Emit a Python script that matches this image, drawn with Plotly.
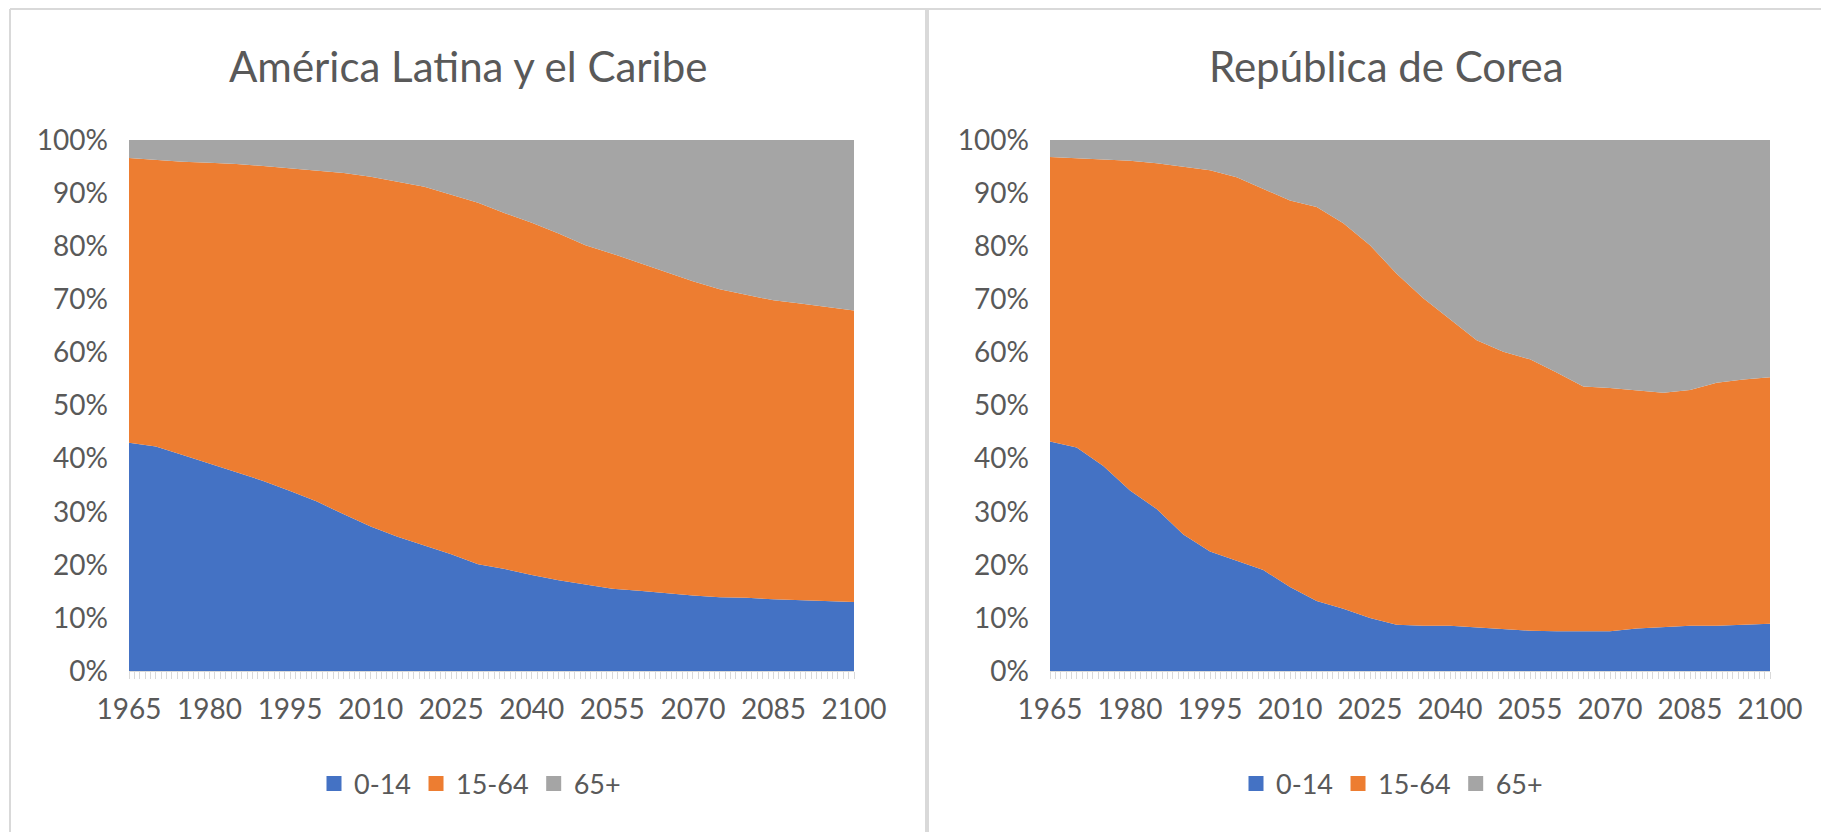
import plotly.graph_objects as go

W, H = 1829, 832

years = [1965, 1970, 1975, 1980, 1985, 1990, 1995, 2000, 2005, 2010, 2015, 2020, 2025, 2030,
         2035, 2040, 2045, 2050, 2055, 2060, 2065, 2070, 2075, 2080, 2085, 2090, 2095, 2100]

age_groups = ["0-14", "15-64", "65+"]
titles = ["América Latina y el Caribe", "República de Corea"]

# América Latina y el Caribe (% of population)
lac_0_14 = [43.0, 42.3, 40.7, 39.1, 37.4, 35.8, 33.9, 31.9, 29.5, 27.2, 25.3, 23.7, 22.0, 20.1,
            19.2, 18.1, 17.1, 16.3, 15.5, 15.1, 14.6, 14.2, 13.9, 13.8, 13.5, 13.3, 13.1, 13.0]
lac_15_64 = [53.6, 53.9, 55.2, 56.6, 58.1, 59.3, 60.8, 62.3, 64.3, 65.9, 66.9, 67.5, 67.7, 68.1,
             67.0, 66.3, 65.3, 63.9, 63.1, 61.8, 60.5, 59.2, 58.0, 57.1, 56.3, 55.9, 55.5, 54.9]
lac_65 = [3.4, 3.8, 4.1, 4.3, 4.5, 4.9, 5.3, 5.8, 6.2, 6.9, 7.8, 8.8, 10.3, 11.8,
          13.8, 15.6, 17.6, 19.8, 21.4, 23.1, 24.9, 26.6, 28.1, 29.1, 30.2, 30.8, 31.4, 32.1]

# República de Corea (% of population)
kor_0_14 = [43.2, 42.1, 38.6, 34.0, 30.5, 25.7, 22.5, 20.8, 19.0, 15.8, 13.2, 11.7, 10.0, 8.7,
            8.5, 8.5, 8.2, 8.0, 7.6, 7.5, 7.5, 7.5, 8.0, 8.3, 8.5, 8.5, 8.7, 8.9]
kor_15_64 = [53.6, 54.5, 57.7, 62.1, 65.1, 69.3, 71.8, 72.2, 71.8, 72.8, 74.2, 72.6, 70.2, 66.1,
             61.7, 57.7, 54.1, 52.1, 51.1, 48.7, 46.1, 45.8, 44.8, 44.1, 44.4, 45.8, 46.2, 46.4]
kor_65 = [3.2, 3.4, 3.7, 3.9, 4.4, 5.0, 5.7, 7.0, 9.2, 11.4, 12.6, 15.7, 19.8, 25.2,
          29.8, 33.8, 37.7, 39.9, 41.3, 43.8, 46.4, 46.7, 47.2, 47.6, 47.1, 45.7, 45.1, 44.7]

colors = ["#4472C4", "#ED7D31", "#A5A5A5"]
text_color = "#595959"
font_family = "Lato, 'Open Sans', sans-serif"

panels = [
    (titles[0], [lac_0_14, lac_15_64, lac_65], "x", "y", "legend"),
    (titles[1], [kor_0_14, kor_15_64, kor_65], "x2", "y2", "legend2"),
]

fig = go.Figure()
for title, series, xa, ya, lg in panels:
    for name, vals, col in zip(age_groups, series, colors):
        fig.add_trace(go.Scatter(
            x=years, y=vals, name=name, xaxis=xa, yaxis=ya,
            stackgroup=xa, mode="lines", line=dict(width=0, color=col),
            fillcolor=col, showlegend=False, hoverinfo="x+y+name",
        ))
    for name, col in zip(age_groups, colors):
        fig.add_trace(go.Scatter(
            x=[None], y=[None], name=name, xaxis=xa, yaxis=ya, mode="markers",
            marker=dict(color=col, symbol="square", size=15), legend=lg, showlegend=True,
        ))

OFF = 8  # page offset of the figure inside the browser window

def px(v):
    return (v - OFF) / W

def py(v):
    return 1 - (v - OFF) / H

plot_top, plot_bot = 140, 671
left_dom = [px(129), px(854)]
right_dom = [px(1050), px(1770)]

xcommon = dict(
    range=[1965, 2100], tickmode="linear", tick0=1965, dtick=15,
    showgrid=False, zeroline=False, showline=True, linecolor="#D9D9D9", linewidth=1,
    ticks="outside", ticklen=7, tickcolor="#D9D9D9", tickwidth=1,
    minor=dict(dtick=1, tick0=1965, ticks="outside", ticklen=7, tickcolor="#D9D9D9", tickwidth=1),
    tickfont=dict(family=font_family, size=28, color=text_color),
    ticklabelstandoff=6,
    fixedrange=True, automargin=False,
)
ycommon = dict(
    range=[0, 100], tickmode="linear", tick0=0, dtick=10, ticksuffix="%",
    showgrid=False, zeroline=False, showline=False, ticks="",
    tickfont=dict(family=font_family, size=28, color=text_color),
    ticklabelstandoff=20, domain=[py(plot_bot), py(plot_top)], fixedrange=True, automargin=False,
)

legend_common = dict(orientation="h", xanchor="center", yanchor="middle", traceorder="normal",
                     font=dict(family=font_family, size=27, color=text_color),
                     itemwidth=30, bgcolor="rgba(0,0,0,0)")

fig.update_layout(
    width=W, height=H,
    margin=dict(l=0, r=0, t=0, b=0, autoexpand=False),
    paper_bgcolor="white", plot_bgcolor="white",
    font=dict(family=font_family, color=text_color),
    xaxis=dict(domain=left_dom, anchor="y", **xcommon),
    yaxis=dict(anchor="x", **ycommon),
    xaxis2=dict(domain=right_dom, anchor="y2", **xcommon),
    yaxis2=dict(anchor="x2", **ycommon),
    legend=dict(x=px(470), y=py(784), **legend_common),
    legend2=dict(x=px(1392), y=py(784), **legend_common),
    showlegend=True,
)

fig.add_annotation(text=titles[0], x=px(468), y=py(66), xref="paper", yref="paper",
                   showarrow=False, xanchor="center", yanchor="middle",
                   font=dict(family=font_family, size=42, color=text_color))
fig.add_annotation(text=titles[1], x=px(1386), y=py(66), xref="paper", yref="paper",
                   showarrow=False, xanchor="center", yanchor="middle",
                   font=dict(family=font_family, size=42, color=text_color))

# panel borders
border = "#D9D9D9"
fig.add_shape(type="line", xref="paper", yref="paper", x0=px(10), x1=1, y0=py(9), y1=py(9),
              line=dict(color=border, width=2))
fig.add_shape(type="line", xref="paper", yref="paper", x0=px(10), x1=px(10), y0=py(9), y1=0,
              line=dict(color=border, width=2))
fig.add_shape(type="line", xref="paper", yref="paper", x0=px(927), x1=px(927), y0=py(9), y1=0,
              line=dict(color=border, width=4))

fig.write_html("out.html")
